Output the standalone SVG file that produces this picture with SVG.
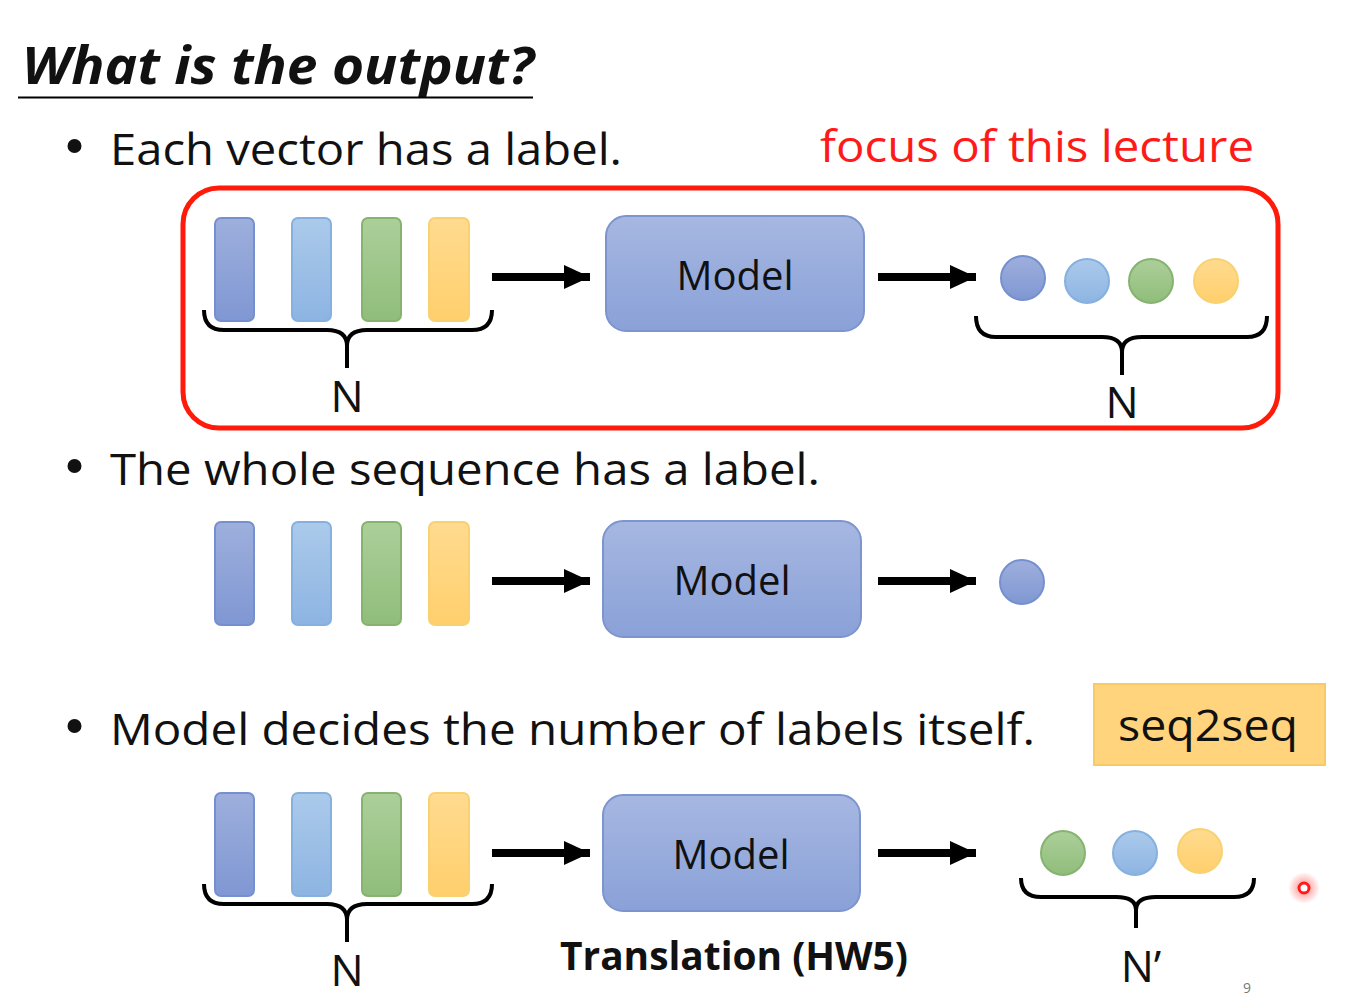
<svg xmlns="http://www.w3.org/2000/svg" width="1354" height="1001" viewBox="0 0 1354 1001">
<defs>
<linearGradient id="gBlue" x1="0" y1="0" x2="0" y2="1"><stop offset="0" stop-color="#9eafdc"/><stop offset="1" stop-color="#7f97d3"/></linearGradient>
<linearGradient id="gLight" x1="0" y1="0" x2="0" y2="1"><stop offset="0" stop-color="#abcaeb"/><stop offset="1" stop-color="#8db4e2"/></linearGradient>
<linearGradient id="gGreen" x1="0" y1="0" x2="0" y2="1"><stop offset="0" stop-color="#accf9a"/><stop offset="1" stop-color="#90bd7b"/></linearGradient>
<linearGradient id="gYellow" x1="0" y1="0" x2="0" y2="1"><stop offset="0" stop-color="#ffdb90"/><stop offset="1" stop-color="#ffcf6c"/></linearGradient>
<linearGradient id="gModel" x1="0" y1="0" x2="0" y2="1"><stop offset="0" stop-color="#a6b7e1"/><stop offset="1" stop-color="#8aa1d8"/></linearGradient>
<radialGradient id="glow"><stop offset="0" stop-color="#ff3030" stop-opacity="0.6"/><stop offset="1" stop-color="#ff3030" stop-opacity="0"/></radialGradient>
<marker id="ah" markerUnits="userSpaceOnUse" markerWidth="28" markerHeight="28" refX="26" refY="14" orient="auto"><path d="M0,2 L26,14 L0,26 Z" fill="#000"/></marker>
</defs>
<style>
text{font-family:"Open Sans","Noto Sans","Liberation Sans",sans-serif;fill:#111}
.body{font-size:44px}
.lbl{font-size:44px}
.mod{font-size:40px}
.b1{fill:url(#gBlue);stroke:#7690cf;stroke-width:2}
.b2{fill:url(#gLight);stroke:#86b0de;stroke-width:2}
.b3{fill:url(#gGreen);stroke:#86b36f;stroke-width:2}
.b4{fill:url(#gYellow);stroke:#f8d170;stroke-width:2}
.model{fill:url(#gModel);stroke:#7d95cf;stroke-width:2}
.brace{fill:none;stroke:#000;stroke-width:4}
.arrow{stroke:#000;stroke-width:8;marker-end:url(#ah)}
.dot{fill:#111}
</style>
<rect width="1354" height="1001" fill="#fff"/>

<g id="title">
<text x="22" y="84" style="font-size:52px;font-weight:bold;font-style:italic" textLength="512" lengthAdjust="spacingAndGlyphs">What is the output?</text>
<line x1="18" y1="97.5" x2="533" y2="97.5" stroke="#000" stroke-width="2"/>
</g>

<g id="bullet1">
<circle class="dot" cx="74.5" cy="146" r="7"/>
<text class="body" x="110" y="165" textLength="512" lengthAdjust="spacingAndGlyphs">Each vector has a label.</text>
<text x="820" y="162" style="font-size:44px;fill:#ff1a1a" textLength="434" lengthAdjust="spacingAndGlyphs">focus of this lecture</text>
</g>

<g id="focus-box">
<rect x="183" y="188" width="1095" height="240" rx="36" fill="none" stroke="#ff1a0a" stroke-width="5"/>
</g>

<g id="row1-inputs">
<rect class="b1" x="215" y="218" width="39" height="103" rx="6"/>
<rect class="b2" x="292" y="218" width="39" height="103" rx="6"/>
<rect class="b3" x="362" y="218" width="39" height="103" rx="6"/>
<rect class="b4" x="429" y="218" width="40" height="103" rx="6"/>
<path class="brace" d="M204,310 Q204,330 224,330 L327,330 Q347,330 347,346 Q347,330 367,330 L472,330 Q492,330 492,310 M347,344 L347,368"/>
<text class="lbl" x="347" y="412" text-anchor="middle">N</text>
</g>

<g id="row1-model">
<rect class="model" x="606" y="216" width="258" height="115" rx="20"/>
<text class="mod" x="735" y="290" text-anchor="middle">Model</text>
</g>

<g id="row1-outputs">
<circle class="b1" cx="1023" cy="278" r="22"/>
<circle class="b2" cx="1087" cy="281" r="22"/>
<circle class="b3" cx="1151" cy="281" r="22"/>
<circle class="b4" cx="1216" cy="281" r="22"/>
<path class="brace" d="M976,316 Q976,337 996,337 L1102,337 Q1122,337 1122,352 Q1122,337 1142,337 L1247,337 Q1267,337 1267,316 M1122,350 L1122,375"/>
<text class="lbl" x="1122" y="418" text-anchor="middle">N</text>
</g>

<g id="bullet2">
<circle class="dot" cx="74.5" cy="466" r="7"/>
<text class="body" x="110" y="485" textLength="710" lengthAdjust="spacingAndGlyphs">The whole sequence has a label.</text>
</g>

<g id="row2-inputs">
<rect class="b1" x="215" y="522" width="39" height="103" rx="6"/>
<rect class="b2" x="292" y="522" width="39" height="103" rx="6"/>
<rect class="b3" x="362" y="522" width="39" height="103" rx="6"/>
<rect class="b4" x="429" y="522" width="40" height="103" rx="6"/>
</g>

<g id="row2-model">
<rect class="model" x="603" y="521" width="258" height="116" rx="20"/>
<text class="mod" x="732" y="595" text-anchor="middle">Model</text>
</g>

<g id="row2-output">
<circle class="b1" cx="1022" cy="582" r="22"/>
</g>

<g id="bullet3">
<circle class="dot" cx="74.5" cy="726" r="7"/>
<text class="body" x="110" y="745" textLength="925" lengthAdjust="spacingAndGlyphs">Model decides the number of labels itself.</text>
</g>

<g id="seq2seq">
<rect x="1094" y="684" width="231" height="81" fill="#ffd47c" stroke="#f7ca66" stroke-width="2"/>
<text x="1208" y="741" text-anchor="middle" style="font-size:44px" textLength="180" lengthAdjust="spacingAndGlyphs">seq2seq</text>
</g>

<g id="row3-inputs">
<rect class="b1" x="215" y="793" width="39" height="103" rx="6"/>
<rect class="b2" x="292" y="793" width="39" height="103" rx="6"/>
<rect class="b3" x="362" y="793" width="39" height="103" rx="6"/>
<rect class="b4" x="429" y="793" width="40" height="103" rx="6"/>
<path class="brace" d="M204,884 Q204,904 224,904 L327,904 Q347,904 347,920 Q347,904 367,904 L472,904 Q492,904 492,884 M347,918 L347,942"/>
<text class="lbl" x="347" y="986" text-anchor="middle">N</text>
</g>

<g id="row3-model">
<rect class="model" x="603" y="795" width="257" height="116" rx="20"/>
<text class="mod" x="731" y="869" text-anchor="middle">Model</text>
<text x="734" y="970" text-anchor="middle" style="font-size:40px;font-weight:bold" textLength="348" lengthAdjust="spacingAndGlyphs">Translation (HW5)</text>
</g>

<g id="row3-outputs">
<circle class="b3" cx="1063" cy="853" r="22"/>
<circle class="b2" cx="1135" cy="853" r="22"/>
<circle class="b4" cx="1200" cy="851" r="22"/>
<path class="brace" d="M1021,878 Q1021,897 1041,897 L1116,897 Q1136,897 1136,910 Q1136,897 1156,897 L1234,897 Q1254,897 1254,878 M1136,907 L1136,928"/>
<text class="lbl" x="1141" y="982" text-anchor="middle">N’</text>
</g>

<g id="connectors">
<line class="arrow" x1="492" y1="277" x2="590" y2="277"/>
<line class="arrow" x1="878" y1="277" x2="976" y2="277"/>
<line class="arrow" x1="492" y1="581" x2="590" y2="581"/>
<line class="arrow" x1="878" y1="581" x2="976" y2="581"/>
<line class="arrow" x1="492" y1="853" x2="590" y2="853"/>
<line class="arrow" x1="878" y1="853" x2="976" y2="853"/>
</g>

<g id="pointer">
<circle cx="1304" cy="888" r="16" fill="url(#glow)"/>
<circle cx="1304" cy="888" r="5" fill="#fff" stroke="#ff1a1a" stroke-width="3"/>
</g>
<text x="1247" y="993" text-anchor="middle" style="font-size:14px;fill:#777">9</text>
</svg>
